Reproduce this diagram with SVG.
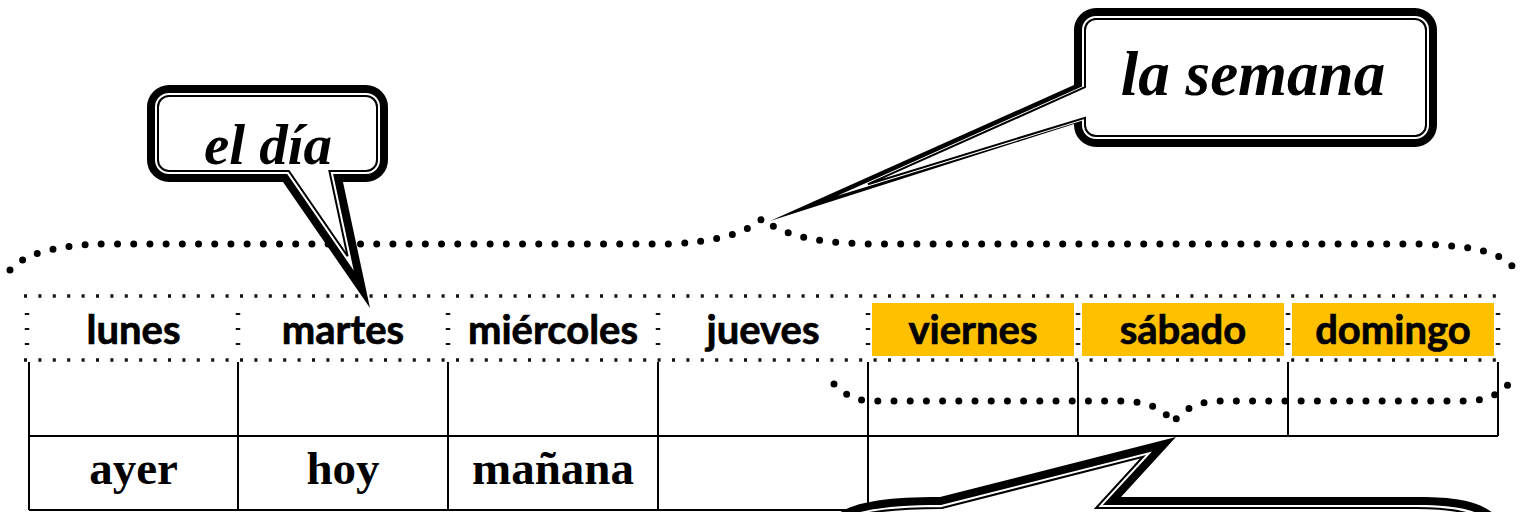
<svg xmlns="http://www.w3.org/2000/svg" width="1528" height="512" viewBox="0 0 1528 512">
<style>
.grid{stroke:#000;stroke-width:2;fill:none}
.dtop{stroke:#111;stroke-width:3.5;stroke-dasharray:3 11.4;fill:none}
.dside{stroke:#111;stroke-width:4.5;stroke-dasharray:2 13;fill:none}
.orange{fill:#FFC000}
.hdr{font-family:Lato,"Open Sans",sans-serif;font-weight:bold;font-size:40px;text-anchor:middle;fill:#000;stroke:#000;stroke-width:0.7}
.cell{font-family:"Liberation Serif","Times New Roman",serif;font-weight:bold;font-size:47px;text-anchor:middle;fill:#000}
.bubtxt{font-family:"Liberation Serif","Times New Roman",serif;font-weight:bold;font-style:italic;text-anchor:middle;fill:#000}
.brace{stroke:#000;stroke-width:7;stroke-linecap:round;stroke-dasharray:0 16.2;fill:none}
.o{fill:#000}
.g{fill:#fff}
.p{fill:#fff;stroke:#000;stroke-width:2}
</style>
<rect width="1528" height="512" fill="#fff"/>
<g id="table">
<path class="grid" d="M29,362V510 M238,362V510 M448,362V510 M658,362V510 M868,362V512 M1078,362V436 M1288,362V436 M1498,362V436 M29,436H1498 M29,510H868"/>
</g>
<g id="header-borders">
<line class="dtop" x1="24" y1="296" x2="1500" y2="296"/>
<line class="dtop" x1="24" y1="360" x2="1500" y2="360"/>
<path class="dside" d="M27,313V350 M238,313V350 M448,313V350 M658,313V350 M868,313V350 M1078,313V350 M1288,313V350 M1498,313V350"/>
</g>
<g id="weekend-fill">
<rect class="orange" x="872" y="303" width="202" height="53"/>
<rect class="orange" x="1082" y="303" width="202" height="53"/>
<rect class="orange" x="1292" y="303" width="202" height="53"/>
</g>
<g id="day-lunes"><text class="hdr" x="133.5" y="344">lunes</text></g>
<g id="day-martes"><text class="hdr" x="343" y="344">martes</text></g>
<g id="day-miercoles"><text class="hdr" x="553" y="344">miércoles</text></g>
<g id="day-jueves"><text class="hdr" x="763" y="344">jueves</text></g>
<g id="day-viernes"><text class="hdr" x="973" y="344">viernes</text></g>
<g id="day-sabado"><text class="hdr" x="1183" y="344">sábado</text></g>
<g id="day-domingo"><text class="hdr" x="1393" y="344">domingo</text></g>
<g id="cell-ayer"><text class="cell" x="133.5" y="484">ayer</text></g>
<g id="cell-hoy"><text class="cell" x="343" y="484">hoy</text></g>
<g id="cell-manana"><text class="cell" x="553" y="484">mañana</text></g>
<g id="connectors">
<path class="brace" d="M10,270 C22,256 50,245 105,244 L670,244 C710,242 745,235 763,218 C775,232 810,243 870,244 L1420,244 C1475,246 1500,252 1514,268"/>
<path class="brace" d="M834,384 C845,395 855,400 870,401 L1125,401 C1150,402 1165,410 1173,423 C1180,412 1195,402 1216,401 L1465,401 C1490,401 1505,392 1515,375"/>
</g>
<g id="bubble-el-dia">
<path class="o" d="M169,85 H366 A22,22 0 0 1 388,107 V160 A22,22 0 0 1 366,182 H343 L370,308 L283,182 H169 A22,22 0 0 1 147,160 V107 A22,22 0 0 1 169,85 Z"/>
<path class="g" d="M169,93 H366 A14,14 0 0 1 380,107 V160 A14,14 0 0 1 366,174 H333.1 L353.7,270.4 L287.2,174 H169 A14,14 0 0 1 155,160 V107 A14,14 0 0 1 169,93 Z"/>
<path class="p" d="M169,96 H366 A11,11 0 0 1 377,107 V160 A11,11 0 0 1 366,171 H329.4 L347.6,256.2 L288.8,171 H169 A11,11 0 0 1 158,160 V107 A11,11 0 0 1 169,96 Z"/>
<text class="bubtxt" x="268" y="164" font-size="57">el día</text>
</g>
<g id="bubble-la-semana">
<path class="o" d="M1096,8 H1415 A22,22 0 0 1 1437,30 V125 A22,22 0 0 1 1415,147 H1096 A22,22 0 0 1 1074,125 V124 L770,221 L1074,85 V30 A22,22 0 0 1 1096,8 Z"/>
<path class="g" d="M1096,16 H1415 A14,14 0 0 1 1429,30 V125 A14,14 0 0 1 1415,139 H1096 A14,14 0 0 1 1082,125 V120.8 L837.4,195.7 L1082,86.4 V30 A14,14 0 0 1 1096,16 Z"/>
<path class="p" d="M1096,19 H1415 A11,11 0 0 1 1426,30 V125 A11,11 0 0 1 1415,136 H1096 A11,11 0 0 1 1085,125 V117.8 L868,184.2 L1085,87.2 V30 A11,11 0 0 1 1096,19 Z"/>
<text class="bubtxt" x="1253" y="95" font-size="63">la semana</text>
</g>
<g id="bubble-weekend">
<path class="o" d="M830,520 C845,505 872,497 940,497 L1176,437 L1121,497 L1420,497 C1462,497 1486,503 1500,520 Z"/>
<path class="g" d="M839,520 C853,512 880,505 941,505 L1152,451.4 L1102.8,505 L1418,505 C1455,505 1477,510 1489,520 Z"/>
<path class="p" d="M845,520 C858,514 884,508 942,508 L1143,456.8 L1096,508 L1416,508 C1451,508 1471,512 1482,520 Z"/>
</g>
</svg>
